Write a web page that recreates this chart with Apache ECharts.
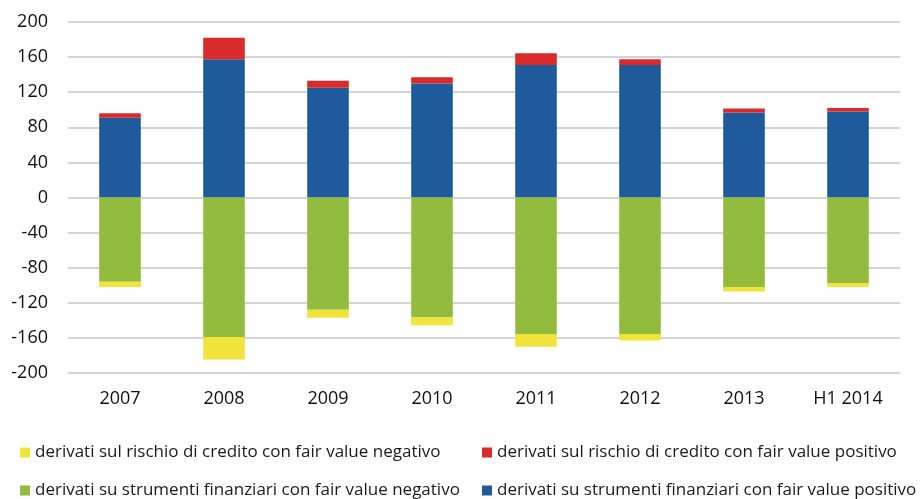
<!DOCTYPE html>
<html>
<head>
<meta charset="utf-8">
<script src="https://cdn.jsdelivr.net/npm/echarts@6/dist/echarts.min.js"></script>
<style>html,body{margin:0;padding:0;background:#fff}#c{width:920px;height:499px}</style>
</head>
<body>
<div id="c"></div>
<script>
const categories = ['2007','2008','2009','2010','2011','2012','2013','H1 2014'];
const finPos = [91, 157.5, 125, 130, 151, 151, 97, 98];
const credPos = [5, 24.5, 8, 7, 13.5, 6.5, 4.5, 4];
const finNeg = [-96, -159, -128, -136.5, -155.5, -155.5, -102, -97.5];
const credNeg = [-6, -25.5, -9, -9, -14.5, -7.5, -5, -4.5];
const names = {
  credNeg: 'derivati sul rischio di credito con fair value negativo',
  credPos: 'derivati sul rischio di credito con fair value positivo',
  finNeg: 'derivati su strumenti finanziari con fair value negativo',
  finPos: 'derivati su strumenti finanziari con fair value positivo'
};
const colors = {credNeg:'#F0E33C', credPos:'#D92B2B', finNeg:'#93BB3D', finPos:'#1F5A9C'};
const font = 'Open Sans';
function bar(key, data){
  return {name:names[key], type:'bar', stack:'s', data:data, barWidth:'40%',
    itemStyle:{color:colors[key]}, emphasis:{disabled:true}};
}
function leg(key, left, top){
  return {data:[names[key]], left:left, top:top, orient:'horizontal', icon:'rect',
    itemWidth:10, itemHeight:10, itemGap:4, selectedMode:false, padding:0,
    textStyle:{fontFamily:font, fontSize:17, color:'#1a1a1a'}};
}
const chart = echarts.init(document.getElementById('c'), null, {renderer:'canvas'});
chart.setOption({
  animation:false,
  textStyle:{fontFamily:font},
  grid:{left:68, right:20, top:22, bottom:126, containLabel:false},
  legend:[
    leg('credNeg', 20, 444),
    leg('credPos', 482, 444),
    leg('finNeg', 20, 482),
    leg('finPos', 482, 482)
  ],
  xAxis:{type:'category', data:categories,
    axisLine:{show:false}, axisTick:{show:false},
    axisLabel:{fontFamily:font, fontSize:18, color:'#111', margin:17}},
  yAxis:{type:'value', min:-200, max:200, interval:40,
    axisLine:{show:false}, axisTick:{show:false},
    splitLine:{lineStyle:{color:'#c6c6c6', width:1.5}},
    axisLabel:{fontFamily:font, fontSize:18, color:'#111', margin:20}},
  series:[
    bar('finPos', finPos),
    bar('credPos', credPos),
    bar('finNeg', finNeg),
    bar('credNeg', credNeg)
  ]
});
</script>
</body>
</html>
